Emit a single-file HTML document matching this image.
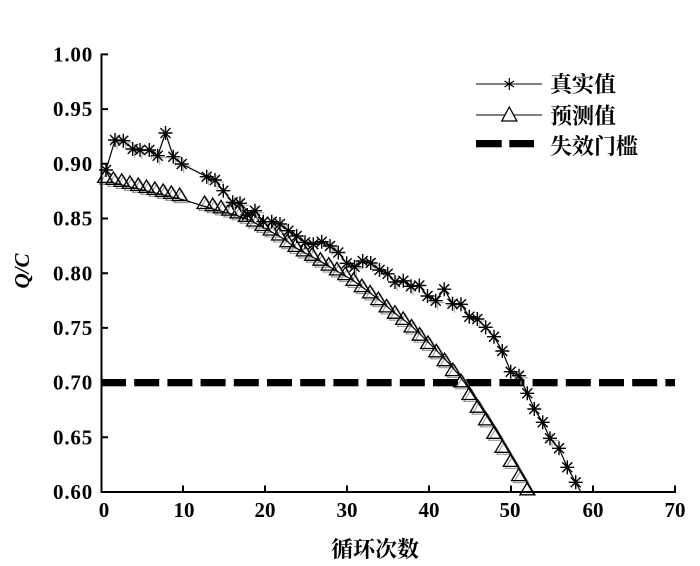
<!DOCTYPE html>
<html><head><meta charset="utf-8"><style>
html,body{margin:0;padding:0;background:#fff;}
svg{display:block;}
.tk{font-family:"Liberation Serif",serif;font-weight:bold;font-size:21px;fill:#000;}
.cj{font-family:"Liberation Serif","Noto Serif CJK SC","Noto Sans CJK SC",serif;font-weight:bold;font-size:22px;fill:#000;}
</style></head><body>
<svg width="700" height="566" viewBox="0 0 700 566" xmlns="http://www.w3.org/2000/svg">
<defs>
<path id="t" d="M0,-12.5L7.5,0L-7.5,0Z" fill="none" stroke="#000" stroke-width="1.3"/>
<path id="tg" d="M0,-12.5L7.5,0L-7.5,0Z" fill="none" stroke="#999" stroke-width="1.1"/>
<path id="s" d="M0,-7V7M-7,0H7M-5,-5L5,5M-5,5L5,-5" fill="none" stroke="#000" stroke-width="1.4"/>
<path id="sg" d="M-7,0H7M0,-7V7" fill="none" stroke="#aaa" stroke-width="1.1"/>
</defs>

<!-- threshold dashes -->
<g fill="#000">
<rect x="101" y="379" width="25" height="7.3"/><rect x="134.2" y="379" width="25" height="7.3"/>
<rect x="167.4" y="379" width="25" height="7.3"/><rect x="200.6" y="379" width="25" height="7.3"/>
<rect x="233.8" y="379" width="25" height="7.3"/><rect x="267" y="379" width="25" height="7.3"/>
<rect x="300.2" y="379" width="25" height="7.3"/><rect x="333.4" y="379" width="25" height="7.3"/>
<rect x="366.6" y="379" width="25" height="7.3"/><rect x="399.8" y="379" width="25" height="7.3"/>
<rect x="433" y="379" width="25" height="7.3"/><rect x="466.2" y="379" width="25" height="7.3"/>
<rect x="499.4" y="379" width="25" height="7.3"/><rect x="532.6" y="379" width="25" height="7.3"/>
<rect x="565.8" y="379" width="25" height="7.3"/><rect x="599" y="379" width="25" height="7.3"/>
<rect x="632.2" y="379" width="25" height="7.3"/><rect x="665.4" y="379" width="9.6" height="7.3"/>
</g>

<!-- predicted ghost triangles -->
<g transform="translate(2,2)">
<use href="#tg" x="105.1" y="182.4"/><use href="#tg" x="113.4" y="184.4"/><use href="#tg" x="121.7" y="186.4"/><use href="#tg" x="129.9" y="188.4"/><use href="#tg" x="138.2" y="190.5"/><use href="#tg" x="146.5" y="192.5"/><use href="#tg" x="154.8" y="194.5"/><use href="#tg" x="163.1" y="196.5"/><use href="#tg" x="171.3" y="198.5"/><use href="#tg" x="179.6" y="200.6"/>
<use href="#tg" x="204.5" y="208.5"/><use href="#tg" x="212.7" y="210.7"/><use href="#tg" x="221" y="212.9"/><use href="#tg" x="229.3" y="215.1"/><use href="#tg" x="237.6" y="218"/><use href="#tg" x="245.9" y="221.5"/><use href="#tg" x="254.1" y="226"/><use href="#tg" x="262.4" y="230.5"/><use href="#tg" x="270.7" y="235"/><use href="#tg" x="279" y="240"/>
<use href="#tg" x="287.3" y="246.7"/><use href="#tg" x="295.5" y="251.4"/><use href="#tg" x="303.8" y="255.9"/><use href="#tg" x="312.1" y="260.3"/><use href="#tg" x="320.4" y="265.2"/><use href="#tg" x="328.7" y="270.1"/><use href="#tg" x="336.9" y="274.9"/><use href="#tg" x="345.2" y="279.6"/><use href="#tg" x="353.5" y="285.4"/><use href="#tg" x="361.8" y="291.6"/>
<use href="#tg" x="370.1" y="297.9"/><use href="#tg" x="378.3" y="304.6"/><use href="#tg" x="386.6" y="311.9"/><use href="#tg" x="394.9" y="318.2"/><use href="#tg" x="403.2" y="324.4"/><use href="#tg" x="411.5" y="332"/><use href="#tg" x="419.7" y="340.2"/><use href="#tg" x="428" y="348.5"/><use href="#tg" x="436.3" y="356.8"/><use href="#tg" x="444.6" y="365.7"/>
<use href="#tg" x="452.9" y="375.6"/><use href="#tg" x="461.1" y="386.8"/><use href="#tg" x="469.4" y="399.5"/><use href="#tg" x="477.7" y="412.2"/><use href="#tg" x="486" y="424.9"/><use href="#tg" x="494.3" y="438.3"/><use href="#tg" x="502.5" y="452.3"/><use href="#tg" x="510.8" y="466.4"/><use href="#tg" x="519.1" y="480.6"/>
</g>

<!-- predicted line -->
<polyline fill="none" stroke="#000" stroke-width="1.2" points="101,182.6 111.6,182.4 119.9,184.4 128.2,186.4 136.4,188.4 144.7,190.5 153,192.5 161.3,194.5 169.6,196.5 177.8,198.5 186.1,200.6 211,208.5 219.2,210.7 227.5,212.9 235.8,215.1 244.1,218 252.4,221.5 260.6,226 268.9,230.5 277.2,235 285.5,240 293.8,246.7 302,251.4 310.3,255.9 318.6,260.3 326.9,265.2 335.2,270.1 343.4,274.9 351.7,279.6 360,285.4 368.3,291.6 376.6,297.9 384.8,304.6 393.1,311.9 401.4,318.2 409.7,324.4 418,332 426.2,340.2 434.5,348.5 442.8,356.8 451.1,365.7 459.4,375.6 467.6,386.8 475.9,399.5 484.2,412.2 492.5,424.9 500.8,438.3 509,452.3 517.3,466.4 525.6,480.6 533.9,494.8"/>

<!-- predicted triangles -->
<g>
<use href="#t" x="105.1" y="182.4"/><use href="#t" x="113.4" y="184.4"/><use href="#t" x="121.7" y="186.4"/><use href="#t" x="129.9" y="188.4"/><use href="#t" x="138.2" y="190.5"/><use href="#t" x="146.5" y="192.5"/><use href="#t" x="154.8" y="194.5"/><use href="#t" x="163.1" y="196.5"/><use href="#t" x="171.3" y="198.5"/><use href="#t" x="179.6" y="200.6"/>
<use href="#t" x="204.5" y="208.5"/><use href="#t" x="212.7" y="210.7"/><use href="#t" x="221" y="212.9"/><use href="#t" x="229.3" y="215.1"/><use href="#t" x="237.6" y="218"/><use href="#t" x="245.9" y="221.5"/><use href="#t" x="254.1" y="226"/><use href="#t" x="262.4" y="230.5"/><use href="#t" x="270.7" y="235"/><use href="#t" x="279" y="240"/>
<use href="#t" x="287.3" y="246.7"/><use href="#t" x="295.5" y="251.4"/><use href="#t" x="303.8" y="255.9"/><use href="#t" x="312.1" y="260.3"/><use href="#t" x="320.4" y="265.2"/><use href="#t" x="328.7" y="270.1"/><use href="#t" x="336.9" y="274.9"/><use href="#t" x="345.2" y="279.6"/><use href="#t" x="353.5" y="285.4"/><use href="#t" x="361.8" y="291.6"/>
<use href="#t" x="370.1" y="297.9"/><use href="#t" x="378.3" y="304.6"/><use href="#t" x="386.6" y="311.9"/><use href="#t" x="394.9" y="318.2"/><use href="#t" x="403.2" y="324.4"/><use href="#t" x="411.5" y="332"/><use href="#t" x="419.7" y="340.2"/><use href="#t" x="428" y="348.5"/><use href="#t" x="436.3" y="356.8"/><use href="#t" x="444.6" y="365.7"/>
<use href="#t" x="452.9" y="375.6"/><use href="#t" x="461.1" y="386.8"/><use href="#t" x="469.4" y="399.5"/><use href="#t" x="477.7" y="412.2"/><use href="#t" x="486" y="424.9"/><use href="#t" x="494.3" y="438.3"/><use href="#t" x="502.5" y="452.3"/><use href="#t" x="510.8" y="466.4"/><use href="#t" x="519.1" y="480.6"/><use href="#t" x="527.4" y="494.8"/>
</g>

<!-- real ghost -->
<g transform="translate(2,2)">
<use href="#sg" x="115" y="140"/><use href="#sg" x="123.3" y="140.7"/><use href="#sg" x="132.7" y="149"/><use href="#sg" x="140" y="150"/><use href="#sg" x="149.3" y="150"/><use href="#sg" x="157.7" y="155.7"/><use href="#sg" x="173.3" y="156.7"/><use href="#sg" x="181.7" y="164"/><use href="#sg" x="206.7" y="176.7"/><use href="#sg" x="215" y="180"/><use href="#sg" x="232.7" y="202.3"/><use href="#sg" x="240" y="203.3"/><use href="#sg" x="255" y="210.7"/><use href="#sg" x="271.7" y="221.7"/><use href="#sg" x="280" y="224"/><use href="#sg" x="330" y="246"/><use href="#sg" x="354.5" y="266.7"/><use href="#sg" x="370.7" y="263"/><use href="#sg" x="395" y="282"/><use href="#sg" x="411" y="286.3"/><use href="#sg" x="435.7" y="300.7"/><use href="#sg" x="452.5" y="303.7"/><use href="#sg" x="477.3" y="319"/><use href="#sg" x="519" y="375.7"/><use href="#sg" x="550" y="438.3"/>
</g>

<!-- real line -->
<polyline fill="none" stroke="#000" stroke-width="1.2" points="106,170 115,140 123.3,140.7 132.7,149 140,150 149.3,150 157.7,155.7 165.5,133 173.3,156.7 181.7,164 206.7,176.7 215,180 223.3,190.7 232.7,202.3 240,203.3 247.3,215 255,210.7 263.3,221.7 271.7,221.7 280,224 288.3,230.7 296.7,236 305,242.3 313.3,244.3 321.7,241.7 330,246 338.3,252.5 346.7,263.3 354.5,266.7 362.7,261 370.7,263 379.5,270 387.7,273.8 395,282 403.3,280.8 411,286.3 419.3,285.5 427.5,296 435.7,300.7 444.2,289.2 452.5,303.7 461,304.3 469.3,316.7 477.3,319 485.7,327.3 494,336.7 502.3,351 510.7,371.7 519,375.7 527.3,393.3 534.3,409 542.7,422.3 550,438.3 559,448.3 567.3,467.3 575.7,482.3 581.5,493"/>

<!-- real stars -->
<g>
<use href="#s" x="106" y="170"/><use href="#s" x="115" y="140"/><use href="#s" x="123.3" y="140.7"/><use href="#s" x="132.7" y="149"/><use href="#s" x="140" y="150"/><use href="#s" x="149.3" y="150"/><use href="#s" x="157.7" y="155.7"/><use href="#s" x="165.5" y="133"/><use href="#s" x="173.3" y="156.7"/><use href="#s" x="181.7" y="164"/>
<use href="#s" x="206.7" y="176.7"/><use href="#s" x="215" y="180"/><use href="#s" x="223.3" y="190.7"/><use href="#s" x="232.7" y="202.3"/><use href="#s" x="240" y="203.3"/><use href="#s" x="247.3" y="215"/><use href="#s" x="255" y="210.7"/><use href="#s" x="263.3" y="221.7"/><use href="#s" x="271.7" y="221.7"/><use href="#s" x="280" y="224"/>
<use href="#s" x="288.3" y="230.7"/><use href="#s" x="296.7" y="236"/><use href="#s" x="305" y="242.3"/><use href="#s" x="313.3" y="244.3"/><use href="#s" x="321.7" y="241.7"/><use href="#s" x="330" y="246"/><use href="#s" x="338.3" y="252.5"/><use href="#s" x="346.7" y="263.3"/><use href="#s" x="354.5" y="266.7"/><use href="#s" x="362.7" y="261"/>
<use href="#s" x="370.7" y="263"/><use href="#s" x="379.5" y="270"/><use href="#s" x="387.7" y="273.8"/><use href="#s" x="395" y="282"/><use href="#s" x="403.3" y="280.8"/><use href="#s" x="411" y="286.3"/><use href="#s" x="419.3" y="285.5"/><use href="#s" x="427.5" y="296"/><use href="#s" x="435.7" y="300.7"/><use href="#s" x="444.2" y="289.2"/>
<use href="#s" x="452.5" y="303.7"/><use href="#s" x="461" y="304.3"/><use href="#s" x="469.3" y="316.7"/><use href="#s" x="477.3" y="319"/><use href="#s" x="485.7" y="327.3"/><use href="#s" x="494" y="336.7"/><use href="#s" x="502.3" y="351"/><use href="#s" x="510.7" y="371.7"/><use href="#s" x="519" y="375.7"/><use href="#s" x="527.3" y="393.3"/>
<use href="#s" x="534.3" y="409"/><use href="#s" x="542.7" y="422.3"/><use href="#s" x="550" y="438.3"/><use href="#s" x="559" y="448.3"/><use href="#s" x="567.3" y="467.3"/><use href="#s" x="575.7" y="482.3"/>
</g>

<!-- axes -->
<g stroke="#000" stroke-width="2" fill="none">
<line x1="101.5" y1="53.5" x2="101.5" y2="493"/>
<line x1="100.5" y1="492" x2="676" y2="492"/>
<path d="M101,54.4H108M101,109.1H108M101,163.8H108M101,218.5H108M101,273.2H108M101,327.9H108M101,382.6H108M101,437.3H108"/>
<path d="M183,492V485.5M265,492V485.5M347,492V485.5M429,492V485.5M511,492V485.5M593,492V485.5M675,492V485.5"/>
</g>

<!-- y tick labels -->
<g class="tk" text-anchor="end" letter-spacing="0.8">
<text x="93" y="61.5">1.00</text>
<text x="93" y="116.2">0.95</text>
<text x="93" y="170.9">0.90</text>
<text x="93" y="225.6">0.85</text>
<text x="93" y="280.3">0.80</text>
<text x="93" y="335">0.75</text>
<text x="93" y="389.7">0.70</text>
<text x="93" y="444.4">0.65</text>
<text x="93" y="499.1">0.60</text>
</g>
<!-- x tick labels -->
<g class="tk" text-anchor="middle">
<text x="104" y="517">0</text>
<text x="184" y="517">10</text>
<text x="265" y="517">20</text>
<text x="347" y="517">30</text>
<text x="429" y="517">40</text>
<text x="510" y="517">50</text>
<text x="593" y="517">60</text>
<text x="675" y="517">70</text>
</g>

<text class="cj" x="375" y="557" text-anchor="middle">循环次数</text>
<text transform="translate(29,271) rotate(-90)" text-anchor="middle" font-family="Liberation Serif, serif" font-weight="bold" font-style="italic" font-size="21">Q/C</text>

<!-- legend -->
<line x1="476" y1="84" x2="542" y2="84" stroke="#000" stroke-width="1"/>
<path d="M509.3,78V90M504.5,81L514,87M504.5,87L514,81" stroke="#000" stroke-width="1.2" fill="none"/>
<text class="cj" x="550" y="92">真实值</text>
<line x1="476" y1="115" x2="542" y2="115" stroke="#000" stroke-width="1"/>
<path d="M509.3,107L516.8,121L501.8,121Z" fill="#fff" stroke="#000" stroke-width="1.3"/>
<text class="cj" x="550" y="123.5">预测值</text>
<rect x="476" y="140" width="25.7" height="7.3" fill="#000"/>
<rect x="509.3" y="140" width="24.7" height="7.3" fill="#000"/>
<text class="cj" x="550" y="154">失效门槛</text>
</svg>
</body></html>
